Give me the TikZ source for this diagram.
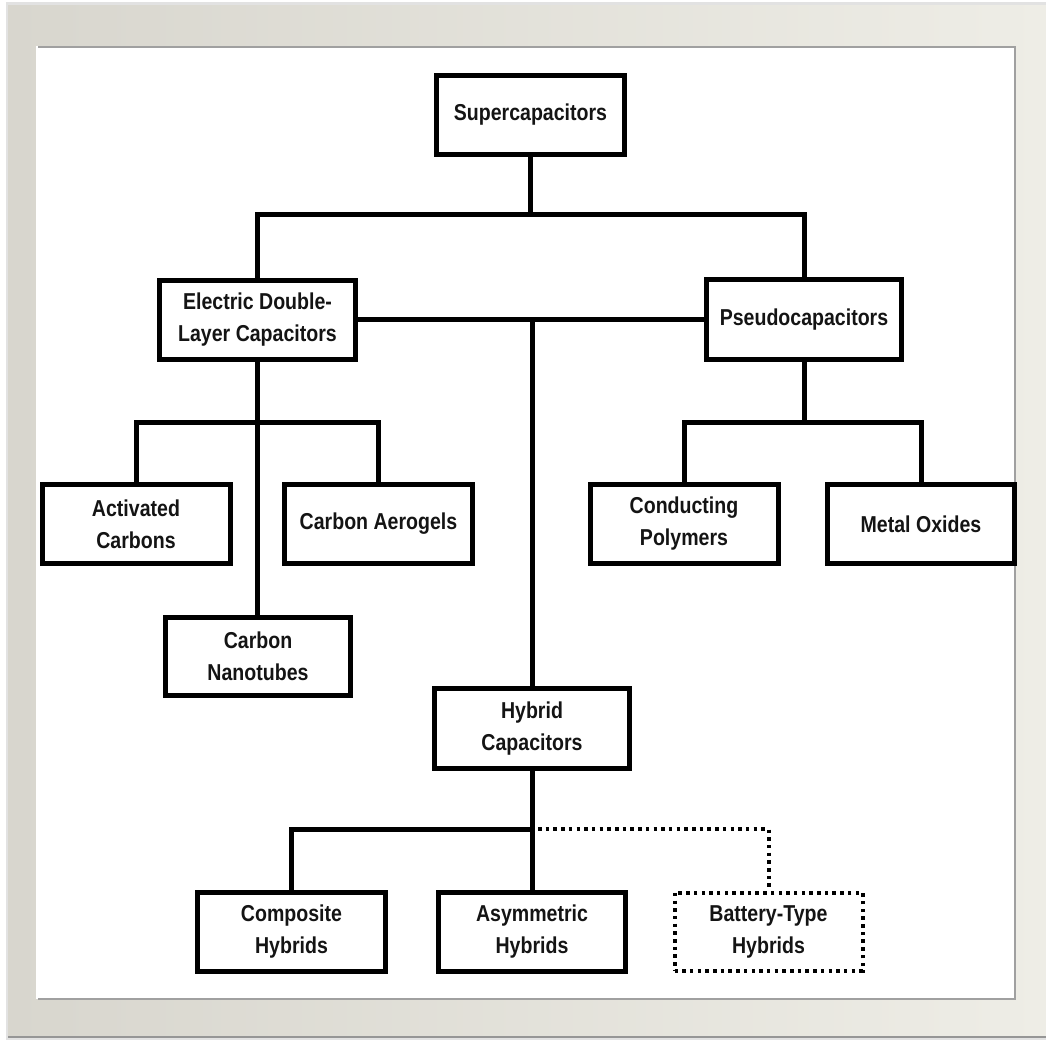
\documentclass[tikz,border=0pt]{standalone}
\usepackage{fontspec}
\setmainfont{Liberation Sans}
\newfontfamily\condfont{Liberation Sans}[FakeStretch=0.85]
\definecolor{frameL}{RGB}{216,214,206}
\definecolor{frameR}{RGB}{238,237,230}
\definecolor{edgeA}{RGB}{150,150,150}
\definecolor{edgeB}{RGB}{160,160,160}
\definecolor{outerG}{RGB}{226,226,226}
\definecolor{ink}{RGB}{20,20,20}
\begin{document}
\begin{tikzpicture}[x=1pt,y=-1pt,
  box/.style={draw=black, line width=5pt, fill=white, align=center, text=ink,
    minimum width=188pt, minimum height=79pt, inner sep=2pt,
    font=\condfont\fontsize{23}{32}\selectfont\bfseries},
  dotbox/.style={box, line width=4pt, dash pattern=on 3.5pt off 4.2pt},
  link/.style={line width=5pt, line cap=rect},
  dotlink/.style={line width=4pt, dash pattern=on 3.5pt off 4.2pt}]
\useasboundingbox (0,0) rectangle (1046,1040);
% frame
\fill[white] (0,0) rectangle (1046,1040);
\fill[outerG] (6,2) rectangle (1046,1040);
\shade[left color=frameL, right color=frameR] (8,6) rectangle (1046,1037);
\draw[line width=1.5pt, edgeA] (8,1037) -- (1046,1037);
\fill[white] (36,46) rectangle (1015,999);
\draw[line width=2pt, edgeB] (38,47) -- (1015,47) -- (1015,999) -- (38,999);
% nodes
\node[box] (sup) at (530.5,115) {Supercapacitors};
\node[box, minimum width=196pt] (edlc) at (257.5,320) {Electric Double-\\Layer Capacitors};
\node[box, minimum width=195pt, minimum height=80pt] (pseudo) at (804,319.5) {Pseudocapacitors};
\node[box] (act) at (136,524) {Activated\\Carbons};
\node[box] (aero) at (378.5,524) {Carbon Aerogels};
\node[box, minimum width=185pt, minimum height=78pt] (nano) at (258,656.5) {Carbon\\Nanotubes};
\node[box] (cond) at (684,524) {Conducting\\Polymers};
\node[box, minimum width=187pt] (metal) at (921,524) {Metal Oxides};
\node[box, minimum width=195pt, minimum height=80pt] (hyb) at (532,728.5) {Hybrid\\Capacitors};
\node[box] (comp) at (291.5,932) {Composite\\Hybrids};
\node[box, minimum width=187pt] (asym) at (532,932) {Asymmetric\\Hybrids};
\node[dotbox, minimum height=78pt] (batt) at (768.5,931.5) {Battery-Type\\Hybrids};
% junctions
\coordinate (j1) at (530.5,215);
\coordinate (j2) at (257.5,422);
\coordinate (j3) at (804,422);
\coordinate (j4) at (532,829);
\coordinate (j5) at (538,829);
% connectors
\draw[link] (sup.south) -- (j1);
\draw[link] (edlc.north) |- (j1) -| (pseudo.north);
\draw[link] (edlc.east) -- (edlc.east -| pseudo.west);
\draw[link] (hyb.north) -- (hyb.north |- edlc.east);
\draw[link] (edlc.south) -- (edlc.south |- nano.north);
\draw[link] (act.north) |- (j2) -| (aero.north);
\draw[link] (pseudo.south) -- (j3);
\draw[link] (cond.north) |- (j3) -| (metal.north);
\draw[link] (hyb.south) -- (asym.north);
\draw[link] (comp.north) |- (j4);
\draw[dotlink] (j5) -| (batt.north);
\end{tikzpicture}
\end{document}
